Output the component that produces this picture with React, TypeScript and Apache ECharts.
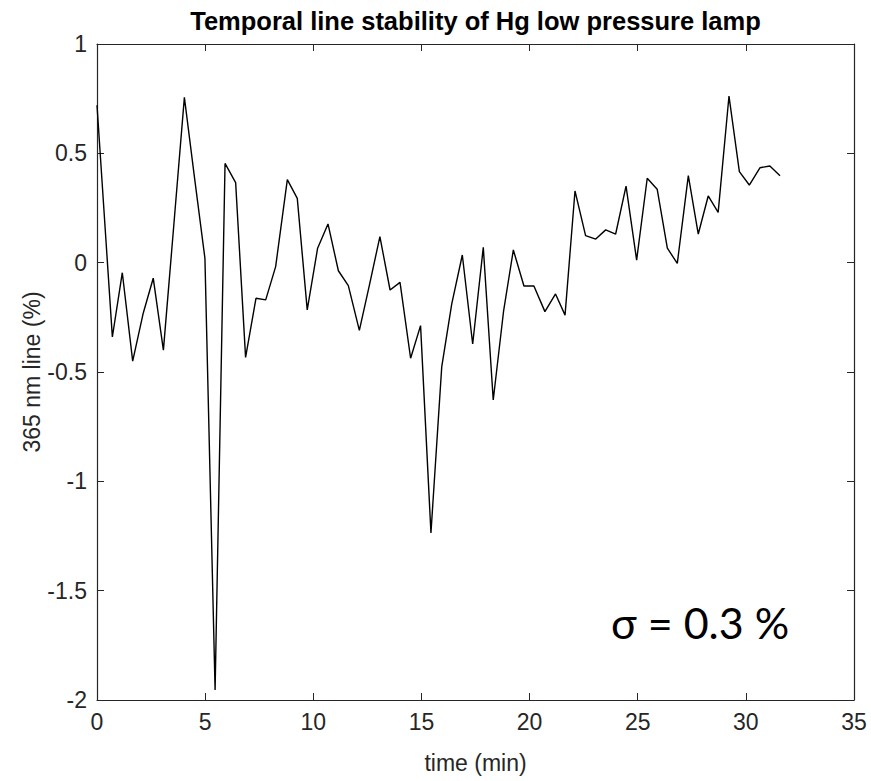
import React, { useEffect, useRef } from "react";
import * as echarts from "echarts";

const timeMin = [
  0, 0.71, 1.17, 1.65, 2.14, 2.6, 3.07, 3.55, 4.04, 4.52,
  4.99, 5.46, 5.92, 6.41, 6.87, 7.35, 7.8, 8.26, 8.8, 9.26,
  9.72, 10.2, 10.68, 11.16, 11.62, 12.13, 12.6, 13.08, 13.55, 14.01,
  14.5, 14.96, 15.44, 15.94, 16.4, 16.89, 17.37, 17.86, 18.32, 18.8,
  19.25, 19.74, 20.2, 20.71, 21.2, 21.64, 22.1, 22.59, 23.06, 23.52,
  23.98, 24.46, 24.95, 25.44, 25.9, 26.37, 26.83, 27.34, 27.8, 28.26,
  28.72, 29.22, 29.7, 30.16, 30.65, 31.11, 31.58,
];

const lineDeviation = [
  0.72, -0.34, -0.046, -0.45, -0.23, -0.071, -0.4, 0.17, 0.756, 0.38,
  0.02, -1.954, 0.454, 0.366, -0.433, -0.163, -0.17, -0.018, 0.38, 0.294,
  -0.216, 0.066, 0.177, -0.037, -0.105, -0.31, -0.1, 0.119, -0.125, -0.09,
  -0.437, -0.288, -1.236, -0.475, -0.19, 0.035, -0.372, 0.07, -0.628, -0.22,
  0.058, -0.107, -0.107, -0.224, -0.143, -0.24, 0.328, 0.124, 0.108, 0.15,
  0.131, 0.35, 0.012, 0.386, 0.336, 0.066, -0.003, 0.398, 0.131, 0.305,
  0.23, 0.762, 0.416, 0.355, 0.434, 0.442, 0.398,
];

const titleText = "Temporal line stability of Hg low pressure lamp";
const xLabel = "time (min)";
const yLabel = "365 nm line (%)";
const sigmaText = "σ = 0.3 %";

const FONT = "'Liberation Sans', Arial, sans-serif";
const AX = "#262626";

export default function App() {
  const ref = useRef<HTMLDivElement>(null);
  useEffect(() => {
    if (!ref.current) return;
    const chart = echarts.init(ref.current, null, { renderer: "svg" });
    const tickStyle = { show: true, inside: true, length: 7, lineStyle: { color: AX, width: 1 } };
    const lineStyle = { show: true, onZero: false, lineStyle: { color: AX, width: 1.2 } };
    chart.setOption({
      animation: false,
      backgroundColor: "#ffffff",
      grid: { left: 97, top: 44, right: 17, bottom: 81, containLabel: false },
      xAxis: [
        {
          type: "value",
          min: 0,
          max: 35,
          interval: 5,
          position: "bottom",
          axisLine: lineStyle,
          axisTick: tickStyle,
          splitLine: { show: false },
          axisLabel: { color: AX, fontFamily: FONT, fontSize: 23, margin: 10 },
          name: xLabel,
          nameLocation: "middle",
          nameGap: 51,
          nameTextStyle: { color: AX, fontFamily: FONT, fontSize: 23 },
        },
        {
          type: "value",
          min: 0,
          max: 35,
          interval: 5,
          position: "top",
          axisLine: lineStyle,
          axisTick: tickStyle,
          splitLine: { show: false },
          axisLabel: { show: false },
        },
      ],
      yAxis: [
        {
          type: "value",
          min: -2,
          max: 1,
          interval: 0.5,
          position: "left",
          axisLine: lineStyle,
          axisTick: tickStyle,
          splitLine: { show: false },
          axisLabel: {
            color: AX,
            fontFamily: FONT,
            fontSize: 23,
            margin: 10,
            formatter: (v: number) => String(v),
          },
          name: yLabel,
          nameLocation: "middle",
          nameGap: 54,
          nameMoveOverlap: false,
          nameTextStyle: { color: AX, fontFamily: FONT, fontSize: 23 },
        },
        {
          type: "value",
          min: -2,
          max: 1,
          interval: 0.5,
          position: "right",
          axisLine: lineStyle,
          axisTick: tickStyle,
          splitLine: { show: false },
          axisLabel: { show: false },
        },
      ],
      graphic: [
        {
          type: "text",
          x: 475.5,
          y: 21,
          style: {
            text: titleText,
            fill: "#000",
            font: `bold 25.5px ${FONT}`,
            textAlign: "center",
            textVerticalAlign: "middle",
          },
        },
        {
          type: "text",
          x: 611,
          y: 622,
          style: {
            text: sigmaText,
            fill: "#000",
            font: `43px Lato, 'Open Sans', sans-serif`,
            textAlign: "left",
            textVerticalAlign: "middle",
          },
        },
      ],
      series: [
        {
          type: "line",
          xAxisIndex: 0,
          yAxisIndex: 0,
          data: timeMin.map((t, i) => [t, lineDeviation[i]]),
          showSymbol: false,
          symbol: "none",
          lineStyle: { color: "#000", width: 1.4 },
          silent: true,
        },
      ],
    });
    return () => chart.dispose();
  }, []);
  return (
    <div
      ref={ref}
      style={{ position: "fixed", left: 0, top: 0, width: 871, height: 781, background: "#fff" }}
    />
  );
}
